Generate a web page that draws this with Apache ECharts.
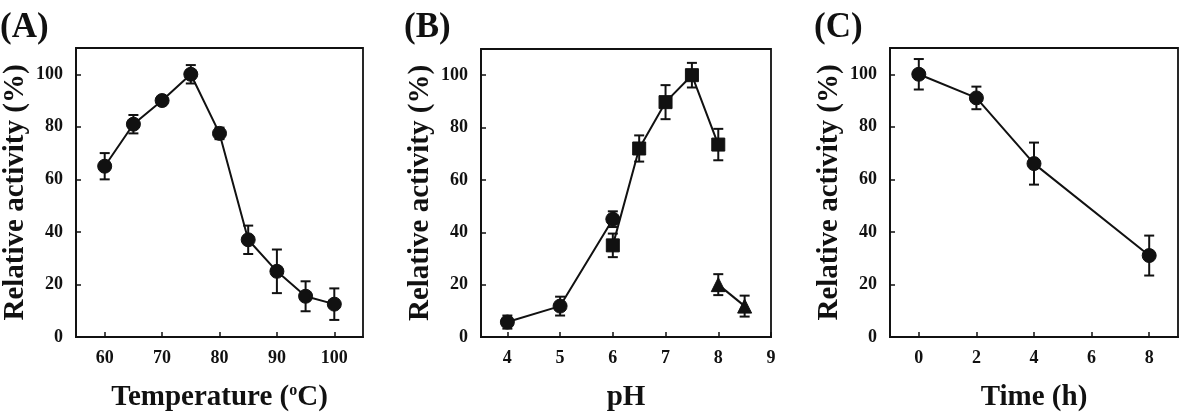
<!DOCTYPE html>
<html>
<head>
<meta charset="utf-8">
<script src="https://cdn.jsdelivr.net/npm/echarts@6/dist/echarts.min.js"></script>
<style>
  html, body { margin: 0; padding: 0; background: #fff; }
  #chart { width: 1185px; height: 417px; }
</style>
</head>
<body>
<div id="chart"></div>
<script>
// (A) temperature
let tempX = [60, 65, 70, 75, 80, 85, 90, 95, 100];
let tempY = [65, 81, 90, 100, 77.5, 37, 25, 15.5, 12.5];
let tempErr = [5, 3.5, 1.2, 3.5, 2.2, 5.4, 8.3, 5.7, 6];

// (B) pH, three buffers
let phCircleX = [4, 5, 6];
let phCircleY = [5.7, 11.8, 45];
let phCircleErr = [2.5, 3.6, 3];
let phSquareX = [6, 6.5, 7, 7.5, 8];
let phSquareY = [35, 72, 89.7, 100, 73.5];
let phSquareErr = [4.5, 5, 6.5, 4.7, 6];
let phTriX = [8, 8.5];
let phTriY = [20, 11.8];
let phTriErr = [4, 4];

// (C) time
let timeX = [0, 2, 4, 8];
let timeY = [100, 91, 66, 31];
let timeErr = [5.8, 4.3, 8, 7.6];

// tick labels
let yTicks = [0, 20, 40, 60, 80, 100];
let tempTicks = [60, 70, 80, 90, 100];
let phTicks = [4, 5, 6, 7, 8, 9];
let timeTicks = [0, 2, 4, 6, 8];

let FONT = '"Liberation Serif", "Times New Roman", serif';
let INK = '#111';

let zip = function (xs, ys, es) {
    return xs.map((x, i) => es ? [x, ys[i], es[i]] : [x, ys[i]]);
};

let chart = echarts.init(document.getElementById('chart'));

let grids = [
    { left: 74, top: 48, width: 289, height: 289 },
    { left: 481, top: 49, width: 290, height: 289 },
    { left: 890, top: 48, width: 288, height: 289 }
];

let makeX = function (idx, min, max, ticks, name) {
    return {
        type: 'value', gridIndex: idx, min: min, max: max,
        name: name, nameLocation: 'middle', nameGap: 46,
        nameTextStyle: {
            fontFamily: FONT, fontWeight: 'bold', fontSize: 29, color: INK,
            rich: {
                sup: { fontFamily: FONT, fontWeight: 'bold', fontSize: 16, color: INK, verticalAlign: 'top', lineHeight: 10 }
            }
        },
        axisLine: { show: true, onZero: false, lineStyle: { color: INK, width: 1.8 } },
        axisTick: { show: true, inside: true, length: 5, customValues: ticks, lineStyle: { color: INK, width: 1.5 } },
        axisLabel: { customValues: ticks, margin: 12, fontFamily: FONT, fontWeight: 'bold', fontSize: 18, color: INK },
        splitLine: { show: false }
    };
};

let makeY = function (idx) {
    return {
        type: 'value', gridIndex: idx, min: 0, max: 110,
        name: 'Relative activity (%)', nameLocation: 'middle', nameGap: 46,
        nameTextStyle: { fontFamily: FONT, fontWeight: 'bold', fontSize: 29, color: INK },
        axisLine: { show: true, onZero: false, lineStyle: { color: INK, width: 1.8 } },
        axisTick: { show: true, inside: true, length: 5, customValues: yTicks, lineStyle: { color: INK, width: 1.5 } },
        axisLabel: { customValues: yTicks, margin: 13, fontFamily: FONT, fontWeight: 'bold', fontSize: 18, color: INK },
        splitLine: { show: false }
    };
};

// vertical error bar with caps, placed through the axis scales
let errorBars = function (idx, data) {
    return {
        type: 'custom', xAxisIndex: idx, yAxisIndex: idx, z: 1,
        data: data,
        renderItem: function (params, api) {
            let x = api.value(0), y = api.value(1), e = api.value(2);
            let hi = api.coord([x, y + e]);
            let lo = api.coord([x, y - e]);
            let w = 5;
            let style = { stroke: INK, lineWidth: 2 };
            return {
                type: 'group',
                children: [
                    { type: 'line', shape: { x1: hi[0], y1: hi[1], x2: lo[0], y2: lo[1] }, style: style },
                    { type: 'line', shape: { x1: hi[0] - w, y1: hi[1], x2: hi[0] + w, y2: hi[1] }, style: style },
                    { type: 'line', shape: { x1: lo[0] - w, y1: lo[1], x2: lo[0] + w, y2: lo[1] }, style: style }
                ]
            };
        }
    };
};

let lineSeries = function (idx, data, symbol, size) {
    return {
        type: 'line', xAxisIndex: idx, yAxisIndex: idx, z: 3,
        data: data, symbol: symbol, symbolSize: size, showSymbol: true,
        lineStyle: { color: INK, width: 2 },
        itemStyle: { color: INK, borderColor: INK },
        animation: false
    };
};

let panelLabel = function (text, left) {
    return {
        type: 'text', left: left, top: 10,
        style: { text: text, fontFamily: FONT, fontWeight: 'bold', fontSize: 35, fill: INK }
    };
};

let option = {
    animation: false,
    backgroundColor: '#fff',
    grid: grids.map(g => Object.assign({
        show: true, borderColor: INK, borderWidth: 1.8, backgroundColor: 'transparent', containLabel: false
    }, g)),
    xAxis: [
        makeX(0, 55, 105, tempTicks, 'Temperature ({sup|o}C)'),
        makeX(1, 3.5, 9, phTicks, 'pH'),
        makeX(2, -1, 9, timeTicks, 'Time (h)')
    ],
    yAxis: [makeY(0), makeY(1), makeY(2)],
    graphic: [
        panelLabel('(A)', 0),
        panelLabel('(B)', 404),
        panelLabel('(C)', 814)
    ],
    series: [
        errorBars(0, zip(tempX, tempY, tempErr)),
        lineSeries(0, zip(tempX, tempY), 'circle', 14),

        errorBars(1, zip(phCircleX, phCircleY, phCircleErr)),
        errorBars(1, zip(phSquareX, phSquareY, phSquareErr)),
        errorBars(1, zip(phTriX, phTriY, phTriErr)),
        lineSeries(1, zip(phCircleX, phCircleY), 'circle', 14),
        lineSeries(1, zip(phSquareX, phSquareY), 'rect', 13),
        lineSeries(1, zip(phTriX, phTriY), 'triangle', 14),

        errorBars(2, zip(timeX, timeY, timeErr)),
        lineSeries(2, zip(timeX, timeY), 'circle', 14)
    ]
};

chart.setOption(option);
</script>
</body>
</html>
